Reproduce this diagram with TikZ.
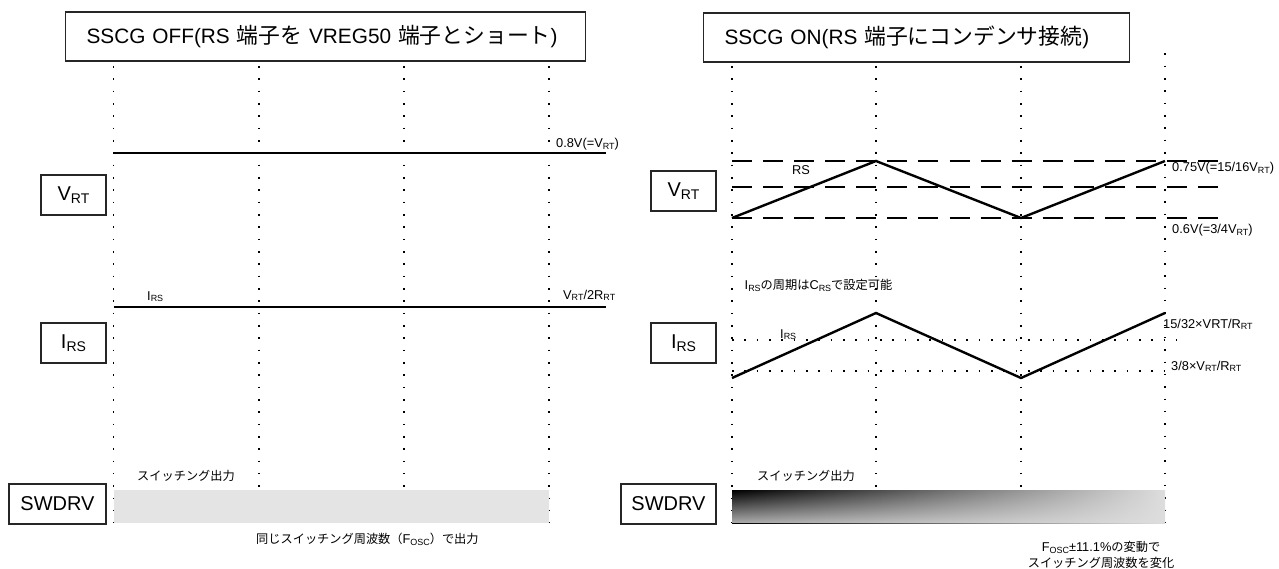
\documentclass[tikz,border=0pt]{standalone}
\usepackage{graphicx}
\usepackage{fontspec}
\setmainfont{Liberation Sans}
\newfontfamily\cjk{Noto Sans CJK JP}
\usetikzlibrary{fadings}
\newcommand\dn[1]{\raisebox{-0.25ex}{\scalebox{0.7}{#1}}}
\newcommand\TJ[1]{{\cjk\fontsize{21.8}{26}\selectfont #1}}
\newcommand\LJ[1]{{\cjk\fontsize{12.2}{15}\selectfont #1}}
\definecolor{swlight}{gray}{0.87}
\definecolor{swflat}{HTML}{E4E4E4}
\tikzfading[name=vfade, top color=transparent!100, middle color=transparent!72, bottom color=transparent!22]
\tikzset{
  lbl/.style={draw=black!85, line width=1.1pt, minimum width=65pt, minimum height=40pt, inner sep=0pt, font=\fontsize{20}{24}\selectfont},
  ttl/.style={draw=black!85, line width=1.1pt, minimum height=49pt, inner xsep=21pt, inner ysep=0pt, align=left, anchor=west, font=\fontsize{20.8}{25}\selectfont},
  vdots/.style={line width=1.6pt, dash pattern=on 1.6pt off 10.73pt},
  hdots/.style={line width=1.6pt, dash pattern=on 1.6pt off 10.73pt},
  sig/.style={line width=2.4pt},
  dsh/.style={line width=2.6pt, dash pattern=on 20pt off 11.07pt},
  txt/.style={inner sep=0pt, anchor=base west, font=\fontsize{12.8}{15}\selectfont},
}
\begin{document}
\begin{tikzpicture}[x=1pt,y=-1pt]
\useasboundingbox (0,0) rectangle (1279,569);
% ---------- left panel ----------
\node[ttl, text width=478pt] (tl) at (65,36.5) {SSCG OFF(RS \TJ{端子を} VREG50 \TJ{端子とショート})};
\foreach \x/\n in {113.5/1,259/2,404/3,549/4}{
  \coordinate (LT\n) at (\x,66);
  \coordinate (LB\n) at (\x,523);
  \draw[vdots] (LT\n) -- (LB\n);
}
\coordinate (LVa) at (113.5,153); \coordinate (LVb) at (606,153);
\coordinate (LIa) at (113.5,307); \coordinate (LIb) at (606,307);
\draw[sig] (LVa) -- (LVb);
\draw[sig] (LIa) -- (LIb);
\coordinate (LSa) at (113.5,490); \coordinate (LSb) at (549,523);
\fill[swflat] (LSa) rectangle (LSb);
\node[lbl] (lvrt) at (73.5,195) {V\dn{RT}};
\node[lbl] (lirs) at (73.5,343) {I\dn{RS}};
\node[lbl, minimum width=97pt] (lsw) at (57.5,504) {SWDRV};
\node[txt] (l08) at (556,147.5) {0.8V(=V\dn{RT})};
\node[txt] (lirsl) at (147,300) {I\dn{RS}};
\node[txt] (lvr) at (563,299) {V\dn{RT}/2R\dn{RT}};
\node[txt] (lsout) at (137,480.5) {\LJ{スイッチング出力}};
\node[txt] (lsame) at (256,543.5) {\LJ{同じスイッチング周波数（}F\dn{OSC}\LJ{）で出力}};
% ---------- right panel ----------
\node[ttl, text width=384pt] (tr) at (703,37.5) {SSCG ON(RS \TJ{端子にコンデンサ接続})};
\foreach \x/\n/\t in {732/1/66,876/2/66,1021/3/66,1165/4/53.3}{
  \coordinate (RT\n) at (\x,\t);
  \coordinate (RB\n) at (\x,523);
  \draw[vdots] (RT\n) -- (RB\n);
}
\foreach \y/\n in {161/1,187/2,218/3}{
  \coordinate (Da\n) at (732,\y);
  \coordinate (Db\n) at (1218,\y);
  \draw[dsh] (Da\n) -- (Db\n);
}
\coordinate (V0) at (732,218); \coordinate (V1) at (876,161);
\coordinate (V2) at (1021,218); \coordinate (V3) at (1165,161);
\draw[sig] (V0) -- (V1) -- (V2) -- (V3);
\coordinate (Ha1) at (732,340); \coordinate (Hb1) at (1185,340);
\coordinate (Ha2) at (732,371); \coordinate (Hb2) at (1168,371);
\draw[hdots] (Ha1) -- (Hb1);
\draw[hdots] (Ha2) -- (Hb2);
\coordinate (I0) at (732,378); \coordinate (I1) at (876,313);
\coordinate (I2) at (1021,378); \coordinate (I3) at (1165,313);
\draw[sig] (I0) -- (I1) -- (I2) -- (I3);
\coordinate (RSa) at (732,490); \coordinate (RSb) at (1165,523);
\shade[left color=black, right color=swlight, middle color=black!55] (RSa) rectangle (RSb);
\fill[swlight, path fading=vfade] (RSa) rectangle (RSb);
\node[lbl] (rvrt) at (683.5,191) {V\dn{RT}};
\node[lbl] (rirs) at (683.5,343) {I\dn{RS}};
\node[lbl, minimum width=95pt] (rsw) at (668.5,504) {SWDRV};
\node[txt] (rrs) at (792,175) {RS};
\node[txt] (r075) at (1172,172) {0.75V(=15/16V\dn{RT})};
\node[txt] (r06) at (1172,234) {0.6V(=3/4V\dn{RT})};
\node[txt] (rper) at (744.5,290) {I\dn{RS}\LJ{の周期は}C\dn{RS}\LJ{で設定可能}};
\node[txt] (rirsl) at (780,338) {I\dn{RS}};
\node[txt] (r1532) at (1163,328) {15/32×VRT/R\dn{RT}};
\node[txt] (r38) at (1171,370) {3/8×V\dn{RT}/R\dn{RT}};
\node[txt] (rsout) at (757,480.5) {\LJ{スイッチング出力}};
\node[txt, anchor=base] (rf1) at (1101,551.5) {F\dn{OSC}±11.1\%\LJ{の変動で}};
\node[txt, anchor=base] (rf2) at (1101,567) {\LJ{スイッチング周波数を変化}};
\end{tikzpicture}
\end{document}
